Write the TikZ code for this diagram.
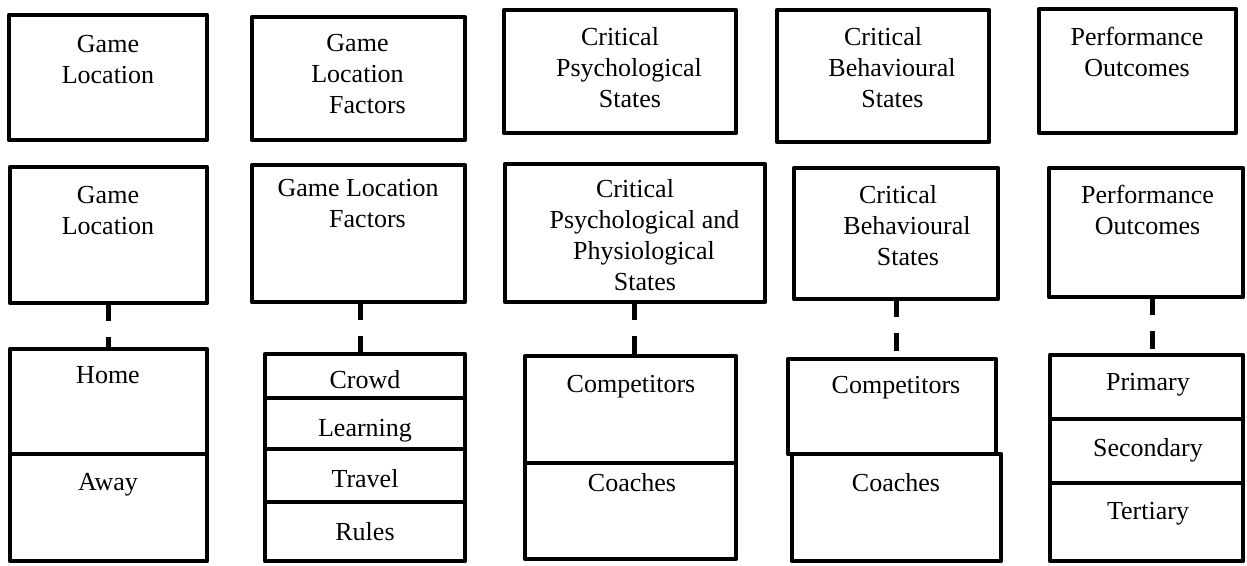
\documentclass[tikz,border=0pt]{standalone}
\usepackage{fontspec}
\setmainfont{Liberation Serif}
\begin{document}
\begin{tikzpicture}[x=1pt,y=-1pt,
  box/.style={draw=black, line width=4.5pt, line join=round, inner sep=0pt, outer sep=0pt, anchor=north west},
  txt/.style={anchor=base, align=center, inner sep=0pt, font=\fontsize{26}{31}\selectfont},
  conn/.style={draw=black, line width=5pt, dash pattern=on 18pt off 16pt}]
\useasboundingbox (0,0) rectangle (1247,565);
\newcommand\cellbox[5]{\node[box, minimum width={#4pt-#2pt}, minimum height={#5pt-#3pt}] (#1) at (#2,#3) {};}
% row 1
\cellbox{a1}{9}{15}{207}{140}
\cellbox{b1}{252}{17}{465}{140}
\cellbox{c1}{504}{10}{736}{133}
\cellbox{d1}{777}{10}{989}{142}
\cellbox{e1}{1039}{9}{1236}{133}
% row 2
\cellbox{a2}{10}{167}{207}{303}
\cellbox{b2}{252}{165}{465}{302}
\cellbox{c2}{505}{164}{765}{302}
\cellbox{d2}{794}{168}{998}{299}
\cellbox{e2}{1049}{168}{1243}{297}
% row 3
\cellbox{a3}{10}{349}{207}{454}
\cellbox{a4}{10}{454}{207}{561}
\cellbox{b3}{265}{354}{465}{398}
\cellbox{b4}{265}{398}{465}{449}
\cellbox{b5}{265}{449}{465}{502}
\cellbox{b6}{265}{502}{465}{561}
\cellbox{c3}{525}{356}{736}{463}
\cellbox{c4}{525}{463}{736}{559}
\cellbox{d3}{788}{359}{996}{454}
\cellbox{d4}{792}{454}{1001}{561}
\cellbox{e3}{1050}{355}{1243}{419}
\cellbox{e4}{1050}{419}{1243}{483}
\cellbox{e5}{1050}{483}{1243}{561}
% texts row 1 (anchor = baseline of last line)
\node[txt] (ta1) at (108,83) {Game\\Location};
\node[txt] (tb1) at (357.5,113) {Game\\Location\\\hspace*{20pt}Factors};
\node[txt] (tc1) at (620,107) {Critical\\\hspace*{18pt}Psychological\\\hspace*{20pt}States};
\node[txt] (td1) at (883,107) {Critical\\\hspace*{18pt}Behavioural\\\hspace*{19pt}States};
\node[txt] (te1) at (1137,76) {Performance\\Outcomes};
% texts row 2
\node[txt] (ta2) at (108,234) {Game\\Location};
\node[txt] (tb2) at (358,227) {Game Location\\\hspace*{19pt}Factors};
\node[txt] (tc2) at (635,290) {Critical\\\hspace*{19pt}Psychological and\\\hspace*{18pt}Physiological\\\hspace*{20pt}States};
\node[txt] (td2) at (898,265) {Critical\\\hspace*{18pt}Behavioural\\\hspace*{20pt}States};
\node[txt] (te2) at (1147.5,234) {Performance\\Outcomes};
% texts row 3
\node[txt] (ta3) at (108,383) {Home};
\node[txt] (ta4) at (108,490) {Away};
\node[txt] (tb3) at (365,388) {Crowd};
\node[txt] (tb4) at (365,436) {Learning};
\node[txt] (tb5) at (365,487) {Travel};
\node[txt] (tb6) at (365,540) {Rules};
\node[txt] (tc3) at (631,392) {Competitors};
\node[txt] (tc4) at (632,491) {Coaches};
\node[txt] (td3) at (896,393) {Competitors};
\node[txt] (td4) at (896,491) {Coaches};
\node[txt] (te3) at (1148,390) {Primary};
\node[txt] (te4) at (1148,456) {Secondary};
\node[txt] (te5) at (1148,519) {Tertiary};
% connectors
\draw[conn] (a2.south) -- (a2.south |- a3.north);
\draw[conn] ([xshift=1.5pt]b2.south) -- ([xshift=1.5pt]b2.south |- b3.north);
\draw[conn] ([xshift=-1pt]c2.south) -- ([xshift=-1pt]c2.south |- c3.north);
\draw[conn] (d2.south) -- (d2.south |- d3.north);
\draw[conn] ([xshift=6pt]e2.south) -- ([xshift=6pt]e2.south |- e3.north);
\end{tikzpicture}
\end{document}
